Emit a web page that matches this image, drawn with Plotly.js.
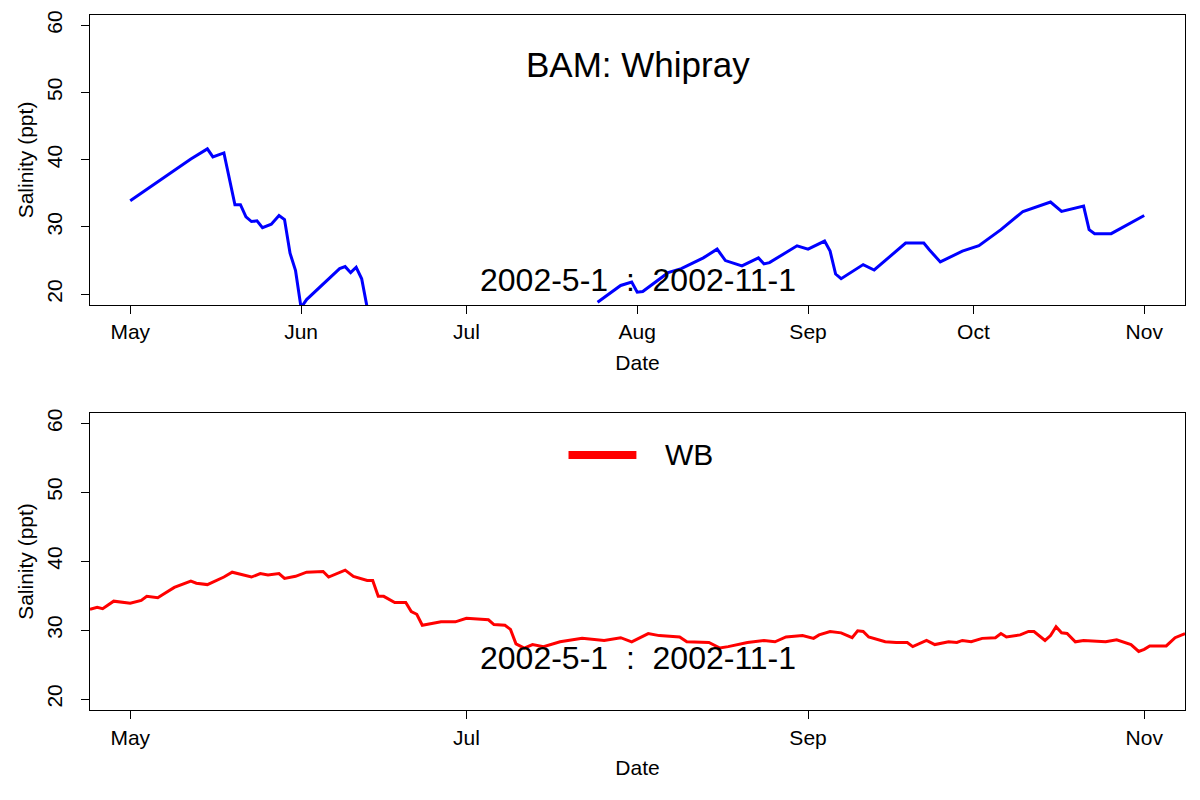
<!DOCTYPE html>
<html>
<head>
<meta charset="utf-8">
<script src="https://cdn.plot.ly/plotly-3.0.1.min.js"></script>
<style>body{margin:0;background:#fff}#chart{width:1200px;height:800px}</style>
</head>
<body>
<div id="chart"></div>
<script>
// Days after 2002-05-01 and salinity (ppt)
const bamDays = [0, 11, 14, 15, 17, 19, 20, 21, 22, 23, 24, 25.6, 27, 28, 29, 30, 31, 32, 38, 39, 40, 41, 42, 43, 60,
  84.8, 89, 91, 92, 93, 97.6, 100, 104, 106.5, 108, 111, 114, 115, 116, 121, 123, 126, 127, 128, 129, 133, 135,
  140.7, 144, 145, 147, 151, 154, 158, 162, 167, 169, 173, 174, 175, 178, 184];
const bamSal = [33.9, 40.1, 41.6, 40.4, 41, 33.3, 33.3, 31.5, 30.8, 30.9, 29.9, 30.4, 31.7, 31.1, 26.1, 23.5, 18.0, 19.2, 23.8, 24.1, 23.2, 24, 22.3, 18.0, null,
  18.8, 21.3, 21.8, 20.3, 20.4, 23.2, 23.8, 25.4, 26.7, 25, 24.2, 25.4, 24.5, 24.7, 27.2, 26.7, 27.9, 26.4, 23, 22.3, 24.4, 23.6,
  27.6, 27.6, 26.6, 24.8, 26.4, 27.2, 29.6, 32.3, 33.7, 32.3, 33.1, 29.6, 29, 29, 31.7];

const wbDays = [-7.3, -6, -5, -3, 0, 2, 3, 5, 6, 8, 11, 12, 14, 17, 18.5, 22, 23.6, 25, 27, 28, 30, 32, 35, 36, 39, 40.5,
  43, 44, 45, 46, 48, 50, 51, 52, 53, 56.4, 59, 61, 65, 66, 68, 69, 70, 71.5, 73, 75, 78, 82, 86, 89, 91, 94, 96, 99.7,
  101, 105, 107, 108.5, 112, 115, 117, 119, 122, 124, 125, 127, 129, 131, 132, 133, 134, 137, 139, 141, 142, 144.5, 146,
  148.5, 150, 151, 152.6, 154.6, 157, 158, 159, 161.5, 163, 164, 166, 167, 168, 169, 170, 171.5, 173, 177, 179, 180,
  181.6, 183, 184, 185, 188, 189.6, 191.4];
const wbSal = [33, 33.3, 33.1, 34.2, 33.9, 34.3, 34.9, 34.7, 35.2, 36.2, 37.1, 36.8, 36.6, 37.7, 38.4, 37.7, 38.2, 38, 38.2, 37.5, 37.8, 38.4, 38.5, 37.7, 38.7, 37.8,
  37.2, 37.2, 34.9, 34.9, 34, 34, 32.7, 32.3, 30.7, 31.2, 31.2, 31.7, 31.5, 30.8, 30.7, 30.1, 28, 27.4, 27.9, 27.6, 28.3, 28.8, 28.5, 28.9, 28.3, 29.5, 29.2, 29,
  28.3, 28.2, 27.4, 27.6, 28.2, 28.5, 28.3, 29, 29.2, 28.8, 29.3, 29.8, 29.6, 28.9, 29.9, 29.8, 29, 28.3, 28.2, 28.2, 27.6, 28.5, 27.9,
  28.3, 28.2, 28.5, 28.3, 28.8, 28.9, 29.5, 29, 29.3, 29.8, 29.8, 28.5, 29.2, 30.5, 29.6, 29.5, 28.3, 28.5, 28.3, 28.6, 28.3,
  27.9, 26.9, 27.2, 27.7, 27.7, 28.9, 29.5];

const topTicks = ['2002-05-01', '2002-06-01', '2002-07-01', '2002-08-01', '2002-09-01', '2002-10-01', '2002-11-01'];
const topLabels = ['May', 'Jun', 'Jul', 'Aug', 'Sep', 'Oct', 'Nov'];
const botTicks = ['2002-05-01', '2002-07-01', '2002-09-01', '2002-11-01'];
const botLabels = ['May', 'Jul', 'Sep', 'Nov'];

const start = Date.UTC(2002, 4, 1);
function toDate(d) {
  return new Date(start + d * 86400000).toISOString().slice(0, 19).replace('T', ' ');
}
const xRange = [toDate(-7.3), toDate(191.4)];
const font = {family: 'Liberation Sans, Arial, sans-serif', color: '#000'};

function xAxis(vals, text, anchor) {
  return {
    type: 'date', range: xRange, tickvals: vals, ticktext: text, anchor: anchor,
    showline: true, mirror: true, linecolor: '#000', linewidth: 1.3, showgrid: false, zeroline: false,
    ticks: 'outside', ticklen: 8, tickcolor: '#000', tickfont: {size: 21},
    title: {text: 'Date', font: {size: 21}, standoff: 12}
  };
}
function yAxis(domain, anchor) {
  return {
    domain: domain, anchor: anchor, range: [18.4, 61.5], tickvals: [20, 30, 40, 50, 60],
    showline: true, mirror: true, linecolor: '#000', linewidth: 1.3, showgrid: false, zeroline: false,
    ticks: 'outside', ticklen: 8, tickcolor: '#000', tickfont: {size: 21}, tickangle: -90,
    ticklabelstandoff: 10,
    title: {text: 'Salinity (ppt)', font: {size: 21}, standoff: 4}
  };
}

const data = [
  {x: bamDays.map(toDate), y: bamSal, type: 'scatter', mode: 'lines', connectgaps: false,
   line: {color: '#0000ff', width: 3}, xaxis: 'x', yaxis: 'y', showlegend: false},
  {x: wbDays.map(toDate), y: wbSal, type: 'scatter', mode: 'lines',
   line: {color: '#ff0000', width: 3}, xaxis: 'x2', yaxis: 'y2', showlegend: false}
];

const layout = {
  width: 1200, height: 800, font: font,
  paper_bgcolor: '#fff', plot_bgcolor: '#fff',
  margin: {l: 90, r: 15, t: 15, b: 0},
  xaxis: xAxis(topTicks, topLabels, 'y'),
  yaxis: yAxis([0.6306, 1], 'x'),
  xaxis2: xAxis(botTicks, botLabels, 'y2'),
  yaxis2: yAxis([0.1146, 0.493], 'x2'),
  annotations: [
    {text: 'BAM: Whipray', xref: 'paper', yref: 'paper', x: 0.5, y: 0.964, showarrow: false, font: {size: 35}},
    {text: '2002-5-1  :  2002-11-1', xref: 'paper', yref: 'paper', x: 0.5, y: 0.662, showarrow: false, font: {size: 32}},
    {text: '2002-5-1  :  2002-11-1', xref: 'paper', yref: 'paper', x: 0.5, y: 0.1554, showarrow: false, font: {size: 32}},
    {text: 'WB', xref: 'paper', yref: 'paper', x: 0.523, y: 0.4395, xanchor: 'left', showarrow: false, font: {size: 30}}
  ],
  shapes: [
    {type: 'line', xref: 'paper', yref: 'paper', x0: 0.437, x1: 0.499, y0: 0.4395, y1: 0.4395,
     line: {color: '#ff0000', width: 8}}
  ]
};

Plotly.newPlot('chart', data, layout, {staticPlot: true});
</script>
</body>
</html>
